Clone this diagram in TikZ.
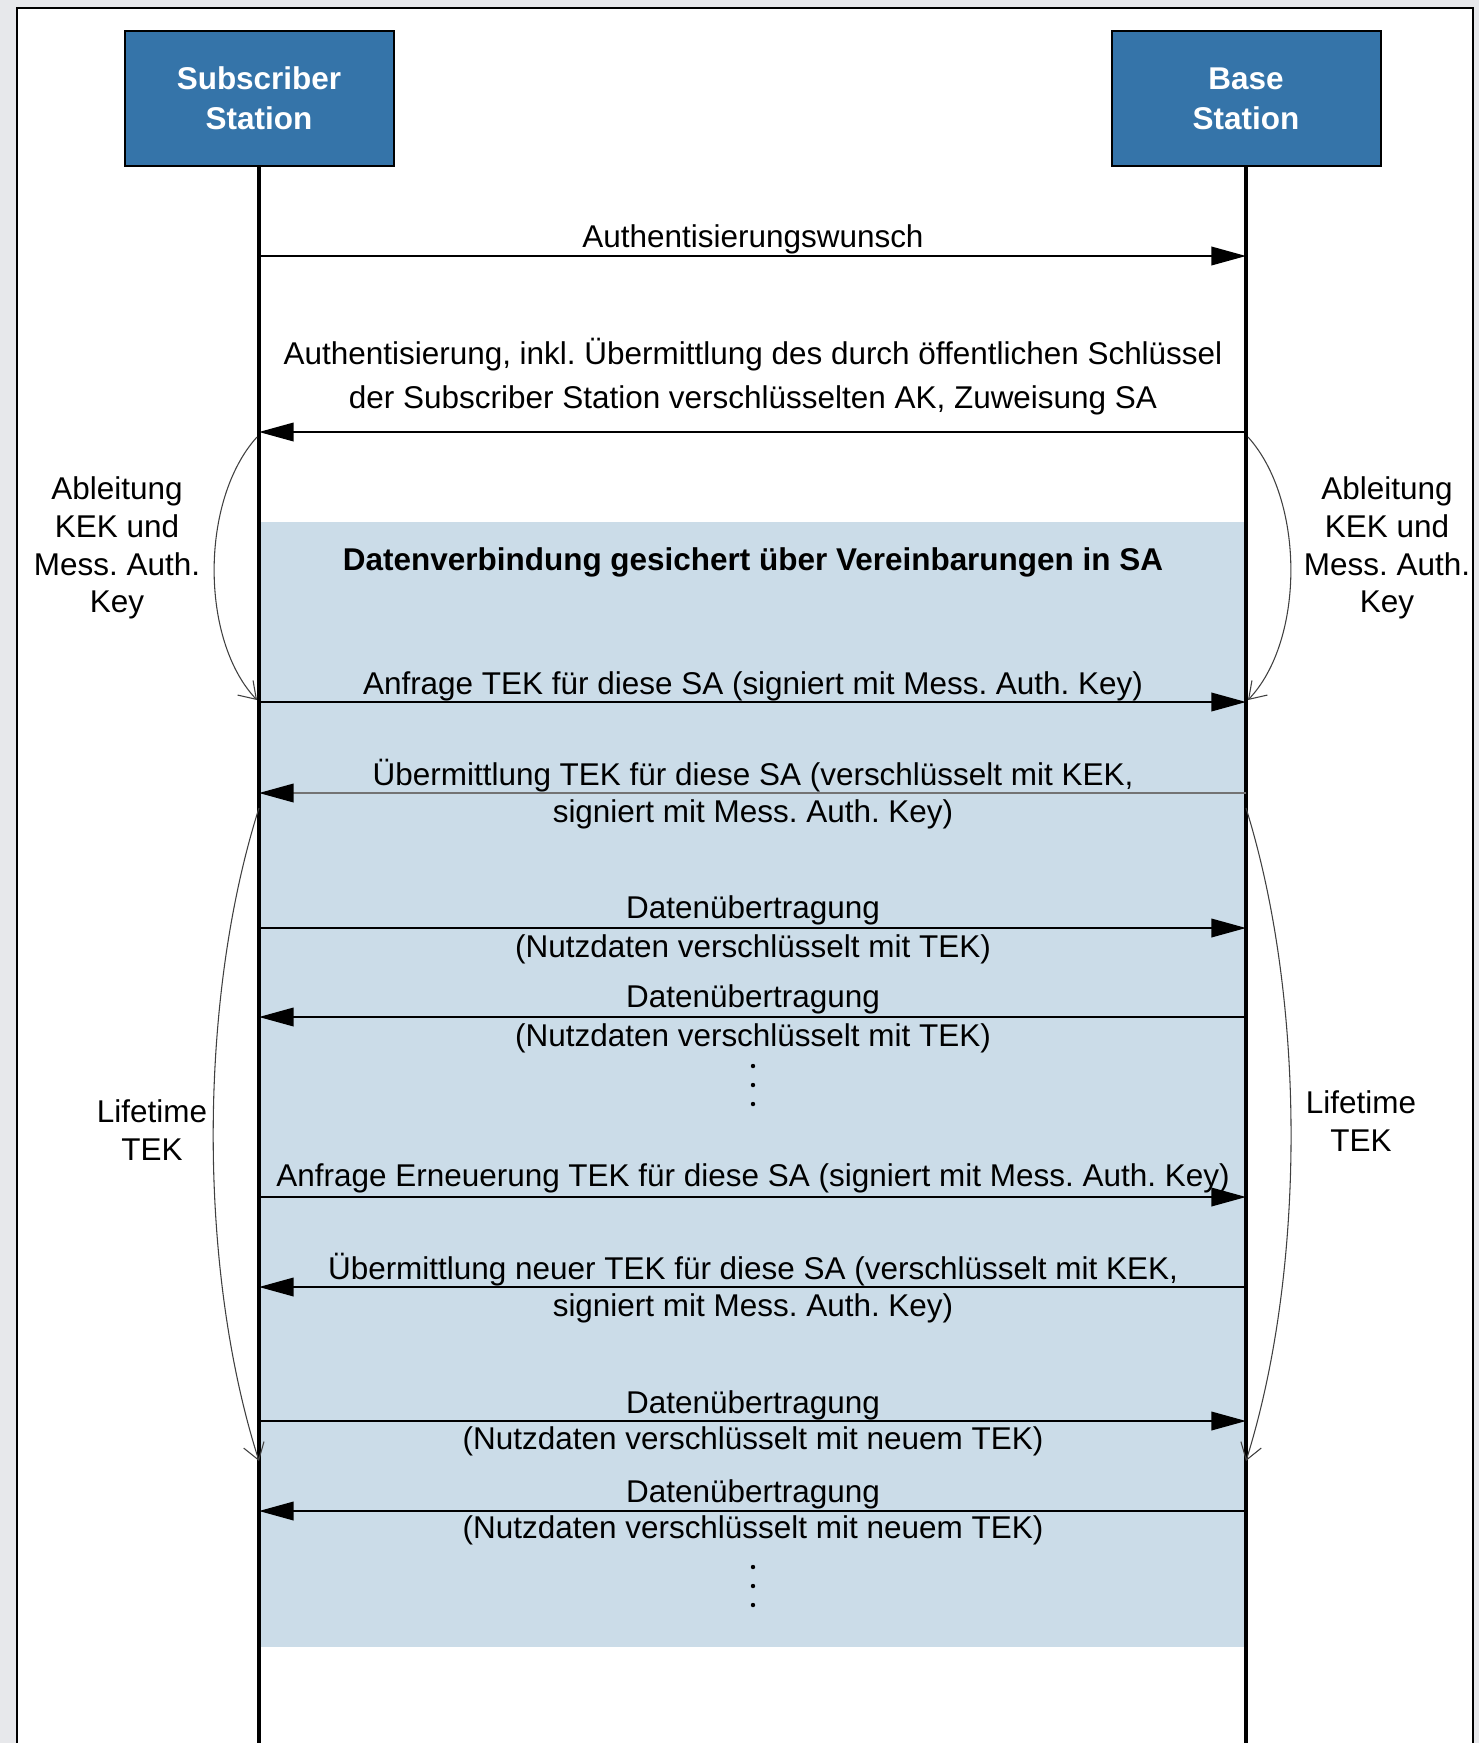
\documentclass[tikz,border=0pt]{standalone}
\usepackage{fontspec}
\setmainfont{Liberation Sans}
\usetikzlibrary{arrows.meta}
\frenchspacing

\definecolor{stationblue}{HTML}{3574A9}
\definecolor{saregion}{HTML}{CBDCE8}
\definecolor{pagegrey}{HTML}{E7E8EB}

\tikzset{
  station/.style={draw=black, line width=1.5pt, fill=stationblue, text=white,
    font=\fontsize{23.6}{30}\selectfont\bfseries, align=center,
    minimum width=201.75pt, minimum height=101.25pt, inner sep=0pt},
  lifeline/.style={line width=2.3pt},
  msg/.style={line width=1.2pt, -{Triangle[length=26pt,width=14pt]}},
  msglabel/.style={font=\fontsize{23.6}{29}\selectfont, align=center, inner sep=0pt},
  phase/.style={draw=black!75, line width=0.8pt, -{Straight Barb[length=12pt,width=16pt]}},
}

\begin{document}
\begin{tikzpicture}[x=0.75pt,y=0.75pt,yscale=-1,xscale=1]
\useasboundingbox (0,0) rectangle (1479,1743);
\clip (0,0) rectangle (1479,1743);
%Page and frame
\fill[pagegrey] (0,0) rectangle (1479,1743);
\draw[line width=1.5pt, fill=white] (17,8) rectangle (1473,1800);

%Shaded SA region
\fill[saregion] (259,522) rectangle (1246,1647);

%Stations
\node[station] (ss) at (259,98.5) {Subscriber\\Station};
\node[station] (bs) at (1246,98.5) {Base\\Station};

%Lifelines
\coordinate (ssend) at (259,1745);
\coordinate (bsend) at (1246,1745);
\draw[lifeline] (ss.south) -- (ssend);
\draw[lifeline] (bs.south) -- (bsend);

%Message end points on both lifelines
\foreach \n/\y in {1/256,2/432,3/702,4/793,5/928,6/1017,7/1197,8/1287,9/1421,10/1511}{
  \coordinate (ss\n) at (259,\y);
  \coordinate (bs\n) at (1246,\y);
}

%Messages
\draw[msg] (ss1) -- (bs1);
\draw[msg] (bs2) -- (ss2);
\draw[msg] (ss3) -- (bs3);
\draw[msg, draw=black!55, -{Triangle[length=26pt,width=14pt,color=black]}] (bs4) -- (ss4);
\draw[msg] (ss5) -- (bs5);
\draw[msg] (bs6) -- (ss6);
\draw[msg] (ss7) -- (bs7);
\draw[msg] (bs8) -- (ss8);
\draw[msg] (ss9) -- (bs9);
\draw[msg] (bs10) -- (ss10);

% Text Node
\node[msglabel] (m1) at (753,239) {Authentisierungswunsch};
% Text Node
\node[msglabel, font=\fontsize{23.6}{33}\selectfont] (m2) at (753,377) {Authentisierung, inkl. Übermittlung des durch öffentlichen Schlüssel\\der Subscriber Station verschlüsselten AK, Zuweisung SA};
% Text Node
\node[msglabel, font=\fontsize{23.6}{29}\selectfont\bfseries] (sa) at (753,562) {Datenverbindung gesichert über Vereinbarungen in SA};
% Text Node
\node[msglabel] (m3) at (753,686) {Anfrage TEK für diese SA (signiert mit Mess. Auth. Key)};
% Text Node
\node[msglabel, font=\fontsize{23.6}{28}\selectfont] (m4) at (753,794) {Übermittlung TEK für diese SA (verschlüsselt mit KEK,\\signiert mit Mess. Auth. Key)};
% Text Node
\node[msglabel] (m5) at (753,930) {Datenübertragung\\(Nutzdaten verschlüsselt mit TEK)};
% Text Node
\node[msglabel] (m6) at (753,1019) {Datenübertragung\\(Nutzdaten verschlüsselt mit TEK)};
% Text Node
\node[msglabel] (m7) at (753,1178) {Anfrage Erneuerung TEK für diese SA (signiert mit Mess. Auth. Key)};
% Text Node
\node[msglabel, font=\fontsize{23.6}{28}\selectfont] (m8) at (753,1288) {Übermittlung neuer TEK für diese SA (verschlüsselt mit KEK,\\signiert mit Mess. Auth. Key)};
% Text Node
\node[msglabel, font=\fontsize{23.6}{27}\selectfont] (m9) at (753,1423) {Datenübertragung\\(Nutzdaten verschlüsselt mit neuem TEK)};
% Text Node
\node[msglabel, font=\fontsize{23.6}{27}\selectfont] (m10) at (753,1512) {Datenübertragung\\(Nutzdaten verschlüsselt mit neuem TEK)};

%Continuation dots
\foreach \d in {-19,0,19}{
  \fill (753,1085+\d) circle (2.2);
  \fill (753,1586+\d) circle (2.2);
}

%Key derivation and TEK lifetime
\coordinate (kekss) at (257,437);
\coordinate (kekssend) at (257,700);
\coordinate (kekbs) at (1248,437);
\coordinate (kekbsend) at (1248,700);
\coordinate (tekss) at (259,808);
\coordinate (tekssend) at (259,1461);
\coordinate (tekbs) at (1246,808);
\coordinate (tekbsend) at (1246,1461);
\draw[phase] (kekss) .. controls (200,500) and (200,640) .. (kekssend);
\draw[phase] (kekbs) .. controls (1305,500) and (1305,640) .. (kekbsend);
\draw[phase] (tekss) .. controls (198,1000) and (198,1270) .. (tekssend);
\draw[phase] (tekbs) .. controls (1306,1000) and (1306,1270) .. (tekbsend);

% Text Node
\node[msglabel, font=\fontsize{23.6}{28.3}\selectfont] (kekl) at (117,548) {Ableitung\\KEK und\\Mess. Auth.\\Key};
% Text Node
\node[msglabel, font=\fontsize{23.6}{28.3}\selectfont] (kekr) at (1387,548) {Ableitung\\KEK und\\Mess. Auth.\\Key};
% Text Node
\node[msglabel, font=\fontsize{23.6}{28.5}\selectfont] (tekl) at (152,1130) {Lifetime\\TEK};
% Text Node
\node[msglabel, font=\fontsize{23.6}{28.5}\selectfont] (tekr) at (1361,1121) {Lifetime\\TEK};

\end{tikzpicture}
\end{document}
